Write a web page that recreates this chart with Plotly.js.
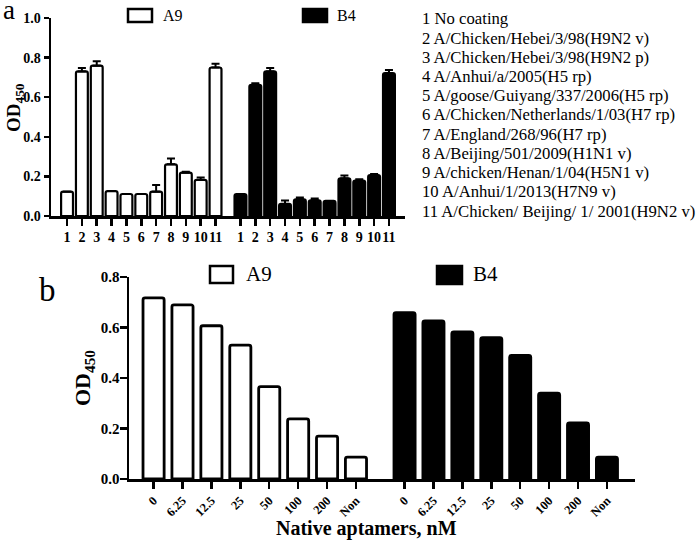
<!DOCTYPE html>
<html><head><meta charset="utf-8">
<script src="https://cdn.plot.ly/plotly-3.0.1.min.js"></script>
<style>html,body{margin:0;padding:0;background:#fff;} #chart{width:700px;height:549px;}</style>
</head><body><div id="chart"></div>
<script>
// ---- data ----
const strainIds = ['1','2','3','4','5','6','7','8','9','10','11'];
const strainLabels = [
  'No coating',
  'A/Chicken/Hebei/3/98(H9N2 v)',
  'A/Chicken/Hebei/3/98(H9N2 p)',
  'A/Anhui/a/2005(H5 rp)',
  'A/goose/Guiyang/337/2006(H5 rp)',
  'A/Chicken/Netherlands/1/03(H7 rp)',
  'A/England/268/96(H7 rp)',
  'A/Beijing/501/2009(H1N1 v)',
  'A/chicken/Henan/1/04(H5N1 v)',
  'A/Anhui/1/2013(H7N9 v)',
  'A/Chicken/ Beijing/ 1/ 2001(H9N2 v)'
];
const bindA9    = [0.123, 0.730, 0.759, 0.126, 0.111, 0.111, 0.123, 0.261, 0.219, 0.182, 0.750];
const bindA9Err = [0.000, 0.017, 0.022, 0.000, 0.000, 0.000, 0.034, 0.030, 0.004, 0.012, 0.019];
const bindB4    = [0.111, 0.663, 0.730, 0.061, 0.084, 0.079, 0.076, 0.190, 0.179, 0.207, 0.722];
const bindB4Err = [0.000, 0.008, 0.017, 0.017, 0.010, 0.010, 0.000, 0.014, 0.006, 0.005, 0.016];

const concLabels = ['0','6.25','12.5','25','50','100','200','Non'];
const inhibA9 = [0.717, 0.690, 0.607, 0.530, 0.366, 0.238, 0.170, 0.087];
const inhibB4 = [0.659, 0.626, 0.583, 0.560, 0.490, 0.340, 0.222, 0.087];

// ---- layout helpers ----
const W = 700, H = 549;
const px = x => x / W;
const py = y => 1 - y / H;
const SERIF = 'Liberation Serif, Times New Roman, serif';
const GAP = 0.68;
function groupPos(n, g) { return Array.from({length: n}, (_, i) => i + g * (n + GAP)); }

const aPosA = groupPos(strainIds.length, 0), aPosB = groupPos(strainIds.length, 1);
const bPosA = groupPos(concLabels.length, 0), bPosB = groupPos(concLabels.length, 1);

function bar(x, y, err, fill, xa, ya, w, lw) {
  const t = {
    type: 'bar', x: x, y: y, xaxis: xa, yaxis: ya, width: w,
    marker: {color: fill, line: {color: '#000', width: lw}, cornerradius: 2},
    hoverinfo: 'y', showlegend: false
  };
  if (err) {
    t.error_y = {type: 'data', symmetric: false, array: err, arrayminus: err.map(() => 0),
                 color: '#000', thickness: 2, width: 4};
  }
  return t;
}

const data = [
  bar(aPosA, bindA9, bindA9Err, '#fff', 'x', 'y', 0.8, 2.2),
  bar(aPosB, bindB4, bindB4Err, '#000', 'x', 'y', 0.8, 2.2),
  bar(bPosA, inhibA9, null, '#fff', 'x2', 'y2', 0.73, 2.8),
  bar(bPosB, inhibB4, null, '#000', 'x2', 'y2', 0.73, 2.8)
];

const axBase = {showgrid: false, zeroline: false, showline: true, linecolor: '#000',
                linewidth: 2.5, ticks: 'outside', tickcolor: '#000', tickwidth: 2.5, fixedrange: true};

const annotations = [];
const shapes = [];
function txt(x, y, s, size, opts) {
  annotations.push(Object.assign({xref: 'paper', yref: 'paper', x: px(x), y: py(y), text: s,
    showarrow: false, xanchor: 'left', yanchor: 'middle',
    font: {family: SERIF, size: size, color: '#000'}}, opts || {}));
}
function box(x0, x1, y0, y1, fill) {
  shapes.push({type: 'rect', xref: 'paper', yref: 'paper', x0: px(x0), x1: px(x1), y0: py(y1), y1: py(y0),
    fillcolor: fill, line: {color: '#000', width: 2.5}});
}
// panel labels
txt(1, 10, 'a', 27);
txt(47, 290, 'b', 33, {xanchor: 'center'});
// legends
box(128, 152, 9, 22, '#fff'); txt(161, 16, 'A9', 16);
box(303, 327, 9, 22, '#000'); txt(335, 16, 'B4', 16);
box(210, 233, 266, 283, '#fff'); txt(244, 274, 'A9', 21);
box(437, 462, 266, 284, '#000'); txt(471, 274, 'B4', 21);
// strain list
strainLabels.forEach((s, i) => txt(420, 19 + 19.2 * i, strainIds[i] + ' ' + s, 16.7));
// axis titles
txt(15, 108, '<b>OD<sub>450</sub></b>', 19, {xanchor: 'center', textangle: -90});
txt(367, 528, '<b>Native aptamers, nM</b>', 20, {xanchor: 'center'});

const layout = {
  width: W, height: H, autosize: false,
  margin: {l: 0, r: 0, t: 0, b: 0},
  paper_bgcolor: '#fff', plot_bgcolor: 'rgba(0,0,0,0)',
  barmode: 'overlay', showlegend: false,
  font: {family: SERIF, color: '#000'},
  xaxis: Object.assign({}, axBase, {
    domain: [px(51), px(405)], anchor: 'y', range: [-1.08, 22.76],
    tickmode: 'array', tickvals: aPosA.concat(aPosB), ticktext: strainIds.concat(strainIds),
    ticklen: 7, tickangle: 0, tickfont: {family: SERIF, size: 14, weight: 'bold', color: '#000'}
  }),
  yaxis: Object.assign({}, axBase, {
    domain: [py(216), py(18)], anchor: 'x', range: [0, 1.0], dtick: 0.2, tick0: 0, tickformat: '.1f',
    ticklen: 5, tickfont: {family: SERIF, size: 14, weight: 'bold', color: '#000'}
  }),
  xaxis2: Object.assign({}, axBase, {
    domain: [px(129), px(635)], anchor: 'y2', range: [-0.85, 16.65],
    tickmode: 'array', tickvals: bPosA.concat(bPosB), ticktext: concLabels.concat(concLabels),
    ticklen: 7, tickangle: -45, tickfont: {family: SERIF, size: 12.5, weight: 'bold', color: '#000'}
  }),
  yaxis2: Object.assign({}, axBase, {
    domain: [py(479), py(277)], anchor: 'x2', range: [0, 0.8], dtick: 0.2, tick0: 0, tickformat: '.1f',
    ticklen: 7, ticklabelstandoff: -3, tickfont: {family: SERIF, size: 15, weight: 'bold', color: '#000'},
    title: {text: 'OD<sub>450</sub>', font: {family: SERIF, size: 22, weight: 'bold', color: '#000'}, standoff: 4}
  }),
  shapes: shapes,
  annotations: annotations
};

Plotly.newPlot('chart', data, layout, {displayModeBar: false, staticPlot: true});
</script>
</body></html>
